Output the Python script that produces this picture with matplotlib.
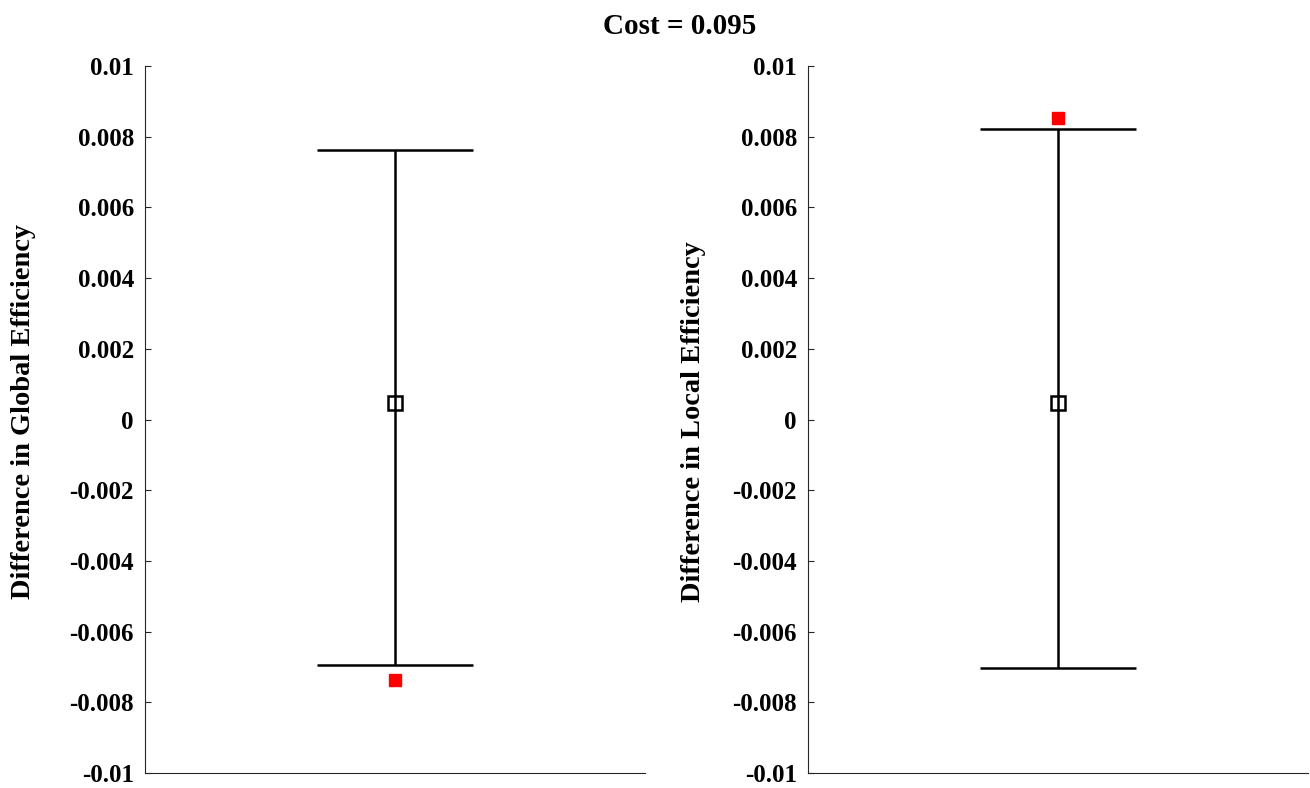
import numpy as np
import matplotlib.pyplot as plt

plt.rcParams['font.family'] = ['Liberation Serif', 'DejaVu Serif']
plt.rcParams['font.weight'] = 'bold'

labels = ['Difference in Global Efficiency', 'Difference in Local Efficiency']
centre = [0.00047, 0.00047]
lower = [-0.00693, -0.00702]
upper = [0.00762, 0.00822]
observed = [-0.00737, 0.00852]
yticks = np.arange(-0.01, 0.0101, 0.002)
yticklabels = ['-0.01', '-0.008', '-0.006', '-0.004', '-0.002', '0',
               '0.002', '0.004', '0.006', '0.008', '0.01']

fig = plt.figure(figsize=(13.1, 7.88), dpi=100)
positions = [[0.1107, 0.019, 0.3817, 0.8972], [0.6168, 0.019, 0.3817, 0.8972]]
label_xy = [(-0.218, 0.511), (-0.204, 0.497)]

for i in range(2):
	ax = fig.add_axes(positions[i])
	err = [[centre[i] - lower[i]], [upper[i] - centre[i]]]
	ax.errorbar([1], [centre[i]], yerr=err, fmt='s', color='black', ecolor='black',
				elinewidth=1.8, capsize=56, capthick=1.8, markersize=10,
				markerfacecolor='none', markeredgewidth=1.8)
	ax.plot([1], [observed[i]], 's', color='red', markersize=8.5)
	ax.set_xlim(0.5, 1.5)
	ax.set_ylim(-0.01, 0.01)
	ax.set_yticks(yticks)
	ax.set_yticklabels(yticklabels, fontsize=18, fontweight='bold')
	ax.set_xticks([])
	ax.spines['top'].set_visible(False)
	ax.spines['right'].set_visible(False)
	for s in ['left', 'bottom']:
		ax.spines[s].set_color('#262626')
		ax.spines[s].set_linewidth(0.8)
	ax.tick_params(axis='y', direction='in', length=4, width=0.8, color='#262626', pad=8)
	ax.set_ylabel(labels[i], fontsize=20.5, fontweight='bold')
	ax.yaxis.set_label_coords(*label_xy[i])

fig.text(0.519, 1 - 27 / 788, 'Cost = 0.095', fontsize=21, fontweight='bold',
		 ha='center', va='center')

fig.savefig('out.png', dpi=100)
